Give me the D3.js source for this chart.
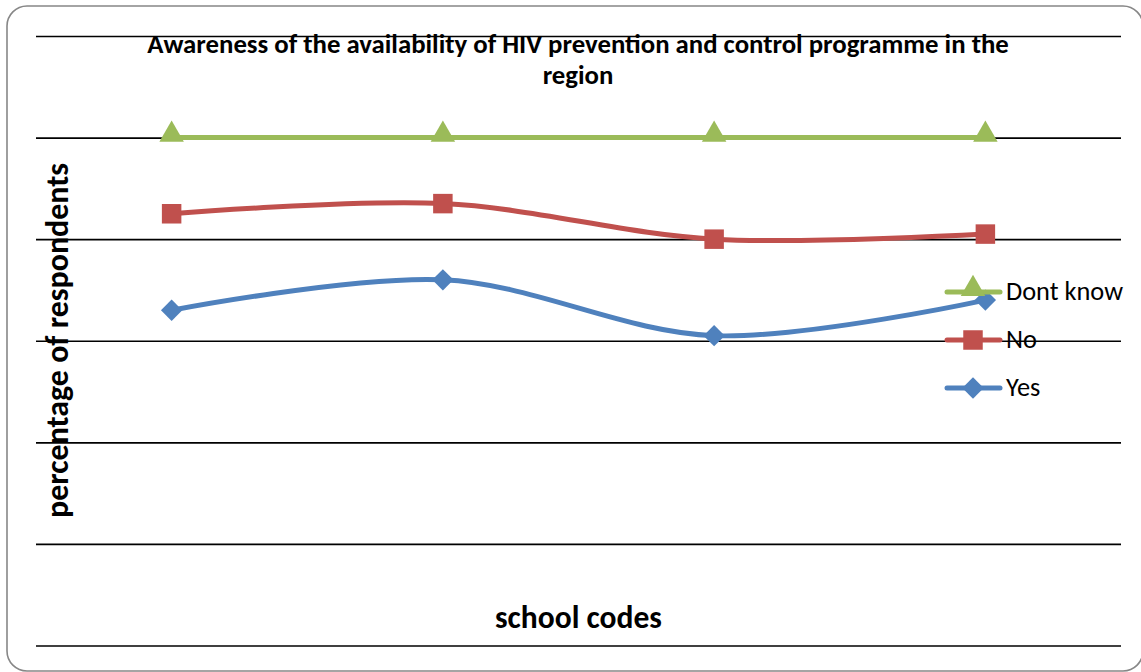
<!DOCTYPE html>
<html>
<head>
<meta charset="utf-8">
<script src="https://cdn.jsdelivr.net/npm/d3@7"></script>
<style>
  html, body { margin: 0; padding: 0; background: #fff; }
  svg { display: block; }
  text { font-family: Calibri, Carlito, Lato, "Open Sans", sans-serif; fill: #000; }
</style>
</head>
<body>
<svg id="chart" width="1141" height="672"></svg>
<script>
// School codes along the x axis (not labelled on the chart)
const categories = ["S1", "S2", "S3", "S4"];

// Share of respondents per answer, in percent (stacked)
const yesValues      = [66, 72, 61, 68];
const noValues       = [19, 15, 19, 13];
const dontKnowValues = [15, 13, 20, 19];

// Gridline values on the value axis
const yTicks = [0, 20, 40, 60, 80, 100, 120];

const seriesNames = ["Yes", "No", "Dont know"];
const colors = { "Yes": "#4F81BD", "No": "#C0504D", "Dont know": "#9BBB59" };
const markerTypes = { "Yes": d3.symbolDiamond2, "No": d3.symbolSquare, "Dont know": d3.symbolTriangle };

const rows = categories.map((c, i) => ({
  code: c, "Yes": yesValues[i], "No": noValues[i], "Dont know": dontKnowValues[i]
}));
const stacked = d3.stack().keys(seriesNames)(rows);

const svg = d3.select("#chart");

// Chart frame
svg.append("rect")
  .attr("x", 7).attr("y", 6)
  .attr("width", 1136).attr("height", 665)
  .attr("rx", 20).attr("ry", 20)
  .attr("fill", "#fff")
  .attr("stroke", "#878787")
  .attr("stroke-width", 1.6);

const plot = { left: 36, right: 1121, top: 36, bottom: 645.5 };

const x = d3.scalePoint().domain(categories).range([plot.left, plot.right]).padding(0.5);
const y = d3.scaleLinear().domain([0, 120]).range([plot.bottom, plot.top]);

// Horizontal gridlines
const grid = svg.append("g")
  .attr("transform", `translate(${plot.left},0)`)
  .call(d3.axisLeft(y).tickValues(yTicks).tickSize(-(plot.right - plot.left)).tickFormat(""));
grid.select(".domain").remove();
grid.selectAll(".tick line").attr("stroke", "#000").attr("stroke-width", 1.6);

// Fit a text element to a given width
function fit(sel, width) {
  const node = sel.node();
  const fs = parseFloat(sel.attr("font-size"));
  const w = node.getComputedTextLength();
  sel.attr("font-size", (fs * width / w).toFixed(2));
  return sel;
}

// Title
const t1 = svg.append("text")
  .attr("x", 578).attr("y", 53)
  .attr("text-anchor", "middle")
  .attr("font-weight", "bold").attr("font-size", 20)
  .text("Awareness of the availability of HIV prevention and control programme in the");
fit(t1, 862);
svg.append("text")
  .attr("x", 578).attr("y", 84)
  .attr("text-anchor", "middle")
  .attr("font-weight", "bold").attr("font-size", t1.attr("font-size"))
  .text("region");

// Axis titles
const yTitle = svg.append("text")
  .attr("transform", "translate(68,340.5) rotate(-90)")
  .attr("text-anchor", "middle")
  .attr("font-weight", "bold").attr("font-size", 24)
  .text("percentage of respondents");
fit(yTitle, 355);

const xTitle = svg.append("text")
  .attr("x", 578.5).attr("y", 628)
  .attr("text-anchor", "middle")
  .attr("font-weight", "bold").attr("font-size", 24)
  .text("school codes");
fit(xTitle, 167);

// Smoothed lines with markers
const line = d3.line()
  .x((d, i) => x(categories[i]))
  .y(d => y(d[1]))
  .curve(d3.curveCatmullRom.alpha(0.5));

const markerSize = { "Yes": 290, "No": 380, "Dont know": 260 };
const lineWidth = 5;

stacked.forEach(s => {
  const name = s.key;
  const g = svg.append("g");
  g.append("path")
    .attr("d", line(s))
    .attr("fill", "none")
    .attr("stroke", colors[name])
    .attr("stroke-width", lineWidth)
    .attr("stroke-linejoin", "round")
    .attr("stroke-linecap", "round");
  g.selectAll("path.marker")
    .data(s)
    .join("path")
    .attr("class", "marker")
    .attr("transform", (d, i) => `translate(${x(categories[i])},${y(d[1]) - (name === "Dont know" ? 3 : 0)})`)
    .attr("d", d3.symbol().type(markerTypes[name]).size(markerSize[name]))
    .attr("fill", colors[name]);
});

// Legend
const legendItems = ["Dont know", "No", "Yes"];
const legendY = d3.scalePoint().domain(legendItems).range([292, 388]);
const legend = svg.append("g");
legendItems.forEach(name => {
  const ly = legendY(name);
  legend.append("line")
    .attr("x1", 947).attr("x2", 1000)
    .attr("y1", ly).attr("y2", ly)
    .attr("stroke", colors[name]).attr("stroke-width", lineWidth)
    .attr("stroke-linecap", "round");
  legend.append("path")
    .attr("transform", `translate(973,${ly - (name === "Dont know" ? 3 : 0)})`)
    .attr("d", d3.symbol().type(markerTypes[name]).size(markerSize[name]))
    .attr("fill", colors[name]);
});
const lt = legendItems.map(name => legend.append("text")
  .attr("x", 1006).attr("y", legendY(name) + 8)
  .attr("font-size", 20)
  .text(name));
fit(lt[0], 117);
lt.forEach(t => t.attr("font-size", lt[0].attr("font-size")));
</script>
</body>
</html>
